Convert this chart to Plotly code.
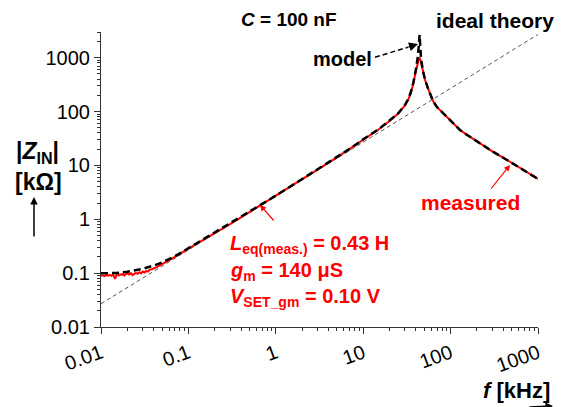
import math
import plotly.graph_objects as go

# Input impedance |Z_IN| (kOhm) versus frequency f (kHz)
ideal_f = [0.01, 1000]
ideal_z = [0.027, 2700]

model_f = [0.01, 0.015, 0.02, 0.03, 0.04, 0.05, 0.07, 0.1, 0.15, 0.2, 0.3, 0.5, 0.7,
           1, 1.5, 2, 3, 5, 7, 10, 15, 20, 25, 30, 33, 35, 37.5, 40, 42, 43.3, 44.2,
           45.0, 46.0, 48, 50.9, 55, 63.4, 70, 82.6, 100, 128, 150, 217, 300, 478, 700, 1000]
model_z = [0.099, 0.101, 0.106, 0.120, 0.138, 0.158, 0.205, 0.29, 0.42, 0.56, 0.82, 1.37, 1.91,
           2.74, 4.15, 5.6, 8.4, 14.2, 20.3, 30.5, 47, 68, 92, 132, 175, 228, 345, 600, 1000, 1700, 2650,
           1600, 950, 600, 395, 272, 153, 121, 92, 66, 45.5, 38, 25.7, 18.3, 11.7, 8.0, 5.6]

meas_f = [0.0100, 0.0105, 0.0110, 0.0115, 0.0120, 0.0126, 0.0132, 0.0138, 0.0145, 0.0150,
          0.0155, 0.0160, 0.0166, 0.0172, 0.0178, 0.0185, 0.0192, 0.0200, 0.0210, 0.0220,
          0.0230, 0.0240, 0.0250, 0.0262, 0.0275, 0.0288, 0.0300, 0.0315, 0.0330, 0.0345,
          0.0360, 0.0380, 0.0400, 0.0420, 0.0440, 0.0460, 0.0480, 0.0500, 0.0550, 0.0600,
          0.07, 0.1, 0.15, 0.2, 0.3, 0.5, 0.7, 1, 1.5, 2, 3, 5, 7, 10, 15, 20, 25, 30, 33, 35,
          37.5, 40, 42, 43.3, 44.3, 45.3, 46.5, 48, 50.9, 55, 63.4, 70, 82.6, 100, 128, 150,
          217, 300, 478, 700, 1000]
meas_z = [0.089, 0.091, 0.088, 0.092, 0.090, 0.093, 0.089, 0.094, 0.078, 0.092,
          0.096, 0.091, 0.095, 0.093, 0.097, 0.090, 0.096, 0.099, 0.094, 0.100,
          0.092, 0.098, 0.101, 0.097, 0.104, 0.099, 0.107, 0.103, 0.110, 0.107,
          0.115, 0.118, 0.124, 0.127, 0.131, 0.136, 0.140, 0.147, 0.160, 0.175,
          0.20, 0.285, 0.415, 0.555, 0.81, 1.36, 1.90, 2.72, 4.12, 5.55, 8.35, 14.1, 20.1, 30.2,
          46.5, 67, 91, 130, 170, 220, 330, 560, 800, 940, 980, 900, 740, 570, 390, 272, 153, 121,
          92, 66, 45.5, 38, 25.7, 18.3, 11.7, 8.0, 5.6]

x_ticks = [0.01, 0.1, 1, 10, 100, 1000]
x_tick_text = ["0.01", "0.1", "1", "10", "100", "1000"]
y_ticks = [0.01, 0.1, 1, 10, 100, 1000]
y_tick_text = ["0.01", "0.1", "1", "10", "100", "1000"]

W, H = 567, 407
L_M, R_M, T_M, B_M = 101, 29, 32, 80
PW, PH = W - L_M - R_M, H - T_M - B_M
FONT = "Arial, Liberation Sans, sans-serif"


def px(x, y):
    """Pixel position in the page -> paper coordinates."""
    return (x - L_M) / PW, (H - B_M - y) / PH


def minor_vals(lo, hi):
    return [m * 10 ** e for e in range(lo, hi) for m in range(2, 10)]


fig = go.Figure()
fig.add_trace(go.Scatter(x=ideal_f, y=ideal_z, mode="lines",
                         line=dict(color="#555555", width=1, dash="4px,3px"),
                         hoverinfo="skip", showlegend=False))
fig.add_trace(go.Scatter(x=meas_f, y=meas_z, mode="lines",
                         line=dict(color="#ff0000", width=2),
                         showlegend=False))
fig.add_trace(go.Scatter(x=model_f, y=model_z, mode="lines",
                         line=dict(color="#000000", width=2.5, dash="7px,4px"),
                         showlegend=False))

axis_common = dict(
    type="log", showgrid=False, zeroline=False, showline=True,
    linecolor="#333333", linewidth=1, ticks="outside", ticklen=6,
    tickcolor="#333333", tickmode="array",
    tickfont=dict(family=FONT, size=20, color="#000000"),
)
fig.update_xaxes(**axis_common, range=[-2, 3], tickvals=x_ticks, ticktext=x_tick_text,
                 tickangle=-20,
                 minor=dict(ticks="outside", ticklen=3, tickcolor="#333333",
                            tickmode="array", tickvals=minor_vals(-2, 3)))
fig.update_yaxes(**axis_common, range=[-2, math.log10(3000)], tickvals=y_ticks,
                 ticktext=y_tick_text,
                 minor=dict(ticks="outside", ticklen=3, tickcolor="#333333",
                            tickmode="array", tickvals=minor_vals(-2, 4)[:-6]))

annotations = []


def label(x, y, text, size=20, color="#000000", xanchor="center"):
    ax_, ay_ = px(x, y)
    annotations.append(dict(x=ax_, y=ay_, xref="paper", yref="paper", text=text,
                            showarrow=False, xanchor=xanchor, yanchor="middle",
                            font=dict(family=FONT, size=size, color=color)))


def arrow(tip_x, tip_y, tail_x, tail_y, color="#000000", width=1.0, size=1.0):
    ax_, ay_ = px(tip_x, tip_y)
    annotations.append(dict(x=ax_, y=ay_, xref="paper", yref="paper", text="",
                            showarrow=True, arrowhead=2, arrowsize=size, arrowwidth=width,
                            arrowcolor=color, ax=tail_x - tip_x, ay=tail_y - tip_y,
                            standoff=0))


# axis titles
label(37, 152, "<b>|<i>Z</i><sub>IN</sub>|</b>", size=23)
label(38, 182, "<b>[kΩ]</b>", size=23)
arrow(34, 197, 34, 238, width=1.5)
label(516, 390, "<b><i>f</i> [kHz]</b>", size=22)
arrow(553, 409, 528, 409, width=1.5)

# curve labels
label(289, 20, "<b><i>C</i> = 100 nF</b>", size=19)
label(495, 21, "<b>ideal theory</b>", size=21)
label(342, 59, "<b>model</b>", size=20)
arrow(418, 44, 407, 47.5, width=1.5, size=1.2)
label(470, 202, "<b>measured</b>", size=21, color="#ff0000")
arrow(510, 165, 490, 190, color="#ff0000", width=1.2)

# circuit parameters
RED = "#ff0000"
label(228, 245, "<b><i>L</i><sub>eq(meas.)</sub> = 0.43 H</b>", size=20, color=RED, xanchor="left")
label(228, 271, "<b><i>g</i><sub>m</sub> = 140 μS</b>", size=20, color=RED, xanchor="left")
label(228, 297, "<b><i>V</i><sub>SET_gm</sub> = 0.10 V</b>", size=20, color=RED, xanchor="left")
arrow(260, 205, 275, 222, color=RED, width=1.2)

x0, y0 = px(375, 57.3)
x1, y1 = px(408, 47.2)
fig.add_shape(type="line", xref="paper", yref="paper", x0=x0, y0=y0, x1=x1, y1=y1,
              line=dict(color="#000000", width=1.5, dash="5px,3px"))

fig.update_layout(
    width=W, height=H, autosize=False,
    margin=dict(l=L_M, r=R_M, t=T_M, b=B_M),
    paper_bgcolor="#ffffff", plot_bgcolor="#ffffff",
    annotations=annotations,
    font=dict(family=FONT),
)

fig.write_html("out.html")
